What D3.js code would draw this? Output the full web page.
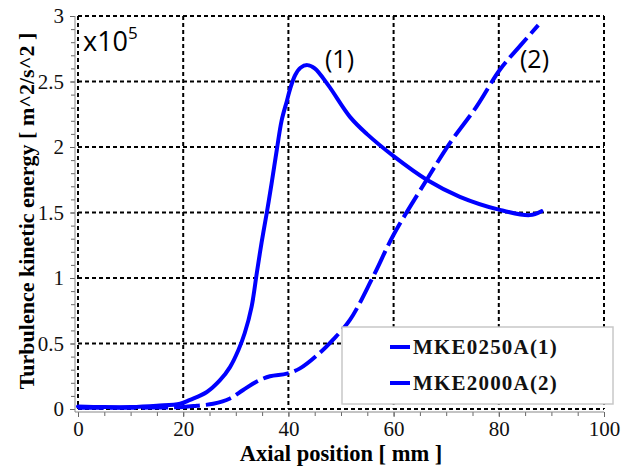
<!DOCTYPE html>
<html><head><meta charset="utf-8">
<script src="https://cdn.jsdelivr.net/npm/d3@7"></script>
<style>body{margin:0;background:#fff}svg{display:block}</style>
</head><body>
<svg id="c" width="623" height="468"></svg>
<script>
const xTicks = [0, 20, 40, 60, 80, 100];
const yTicks = [0, 0.5, 1, 1.5, 2, 2.5, 3];
const yTickLabels = ["0", "0.5", "1", "1.5", "2", "2.5", "3"];
const seriesNames = ["MKE0250A(1)", "MKE2000A(2)"];
const x1 = [0, 5, 10, 15, 19.4, 21.3, 24.5, 27, 28.9, 30.5, 31.7, 33, 34, 34.9, 35.9, 36.8, 37.8, 38.7, 39.7, 40.3, 41.3, 42.3, 43.6, 45, 47.6, 51.7, 54.9, 60, 66.3, 72.6, 80.2, 85.9, 88.1];
const y1 = [0.02, 0.015, 0.015, 0.025, 0.04, 0.07, 0.13, 0.22, 0.32, 0.45, 0.58, 0.78, 1.04, 1.27, 1.5, 1.72, 1.98, 2.2, 2.35, 2.44, 2.55, 2.605, 2.625, 2.6, 2.47, 2.23, 2.10, 1.93, 1.75, 1.62, 1.52, 1.48, 1.51];
const x2 = [0, 10, 20, 22.6, 25.7, 28.9, 31.4, 34, 36.5, 39.7, 42.2, 46, 48.5, 51.7, 56.1, 60, 66.3, 70.7, 75.8, 80.2, 84, 87.5];
const y2 = [0.01, 0.01, 0.015, 0.025, 0.04, 0.08, 0.145, 0.21, 0.25, 0.27, 0.31, 0.43, 0.53, 0.68, 1.01, 1.33, 1.75, 2.03, 2.31, 2.59, 2.77, 2.93];

const svg = d3.select("#c");
const x = d3.scaleLinear().domain([0, 100]).range([78, 604]);
const y = d3.scaleLinear().domain([0, 3]).range([409, 16]);
const blue = "#0000ff";
const serif = "'Liberation Serif','Times New Roman',serif";
const sans = "'Open Sans','Noto Sans',sans-serif";

// grid
const grid = svg.append("g").attr("stroke", "#000").attr("stroke-width", 2).attr("stroke-dasharray", "4,3");
grid.selectAll(".v").data(xTicks).enter().append("line")
  .attr("x1", d => x(d)).attr("x2", d => x(d)).attr("y1", y(3)).attr("y2", y(0));
grid.selectAll(".h").data(yTicks).enter().append("line")
  .attr("y1", d => y(d)).attr("y2", d => y(d)).attr("x1", x(0)).attr("x2", x(100));

// axes
const xAxis = d3.axisBottom(x).tickValues(xTicks).tickSize(5).tickPadding(4);
const xMinor = d3.axisBottom(x).tickValues(d3.range(0, 101, 5)).tickSize(4).tickFormat("");
const gx = svg.append("g").attr("transform", "translate(0,412)");
gx.call(xMinor);
gx.append("g").call(xAxis);
gx.selectAll("line").attr("stroke", "#666");
gx.selectAll("text").attr("font-family", serif).attr("font-size", 21).attr("fill", "#111");

const yAxis = d3.axisLeft(y).tickValues(yTicks).tickFormat((d, i) => yTickLabels[i]).tickSize(5).tickPadding(6);
const yMinor = d3.axisLeft(y).tickValues(d3.range(0, 3.01, 0.1)).tickSize(4).tickFormat("");
const gy = svg.append("g").attr("transform", "translate(75,0)");
gy.call(yMinor);
gy.append("g").call(yAxis);
gy.selectAll("line").attr("stroke", "#666");
gy.selectAll("text").attr("font-family", serif).attr("font-size", 21).attr("fill", "#111");
gx.selectAll(".domain").remove(); gy.selectAll(".domain").remove();
svg.append("line").attr("x1", 75).attr("x2", 75).attr("y1", y(3)).attr("y2", 412).attr("stroke", "#888");
svg.append("line").attr("x1", 75).attr("x2", x(100)).attr("y1", 412).attr("y2", 412).attr("stroke", "#888");

// lines
const line = d3.line().x(d => x(d[0])).y(d => y(d[1])).curve(d3.curveCatmullRom.alpha(0.5));
svg.append("path").datum(x1.map((v, i) => [v, y1[i]])).attr("d", line)
  .attr("fill", "none").attr("stroke", blue).attr("stroke-width", 4).attr("stroke-linecap", "round").attr("stroke-linejoin", "round");
svg.append("path").datum(x2.map((v, i) => [v, y2[i]])).attr("d", line)
  .attr("fill", "none").attr("stroke", blue).attr("stroke-width", 4).attr("stroke-dasharray", "26,6");

// annotations
svg.append("text").attr("x", 83).attr("y", 51).attr("font-family", sans).attr("font-size", 27).attr("fill", "#000")
  .text("x10").append("tspan").attr("dy", -12).attr("font-size", 17).text("5");
svg.append("text").attr("x", 325).attr("y", 68).attr("font-family", sans).attr("font-size", 25).text("(1)");
svg.append("text").attr("x", 520).attr("y", 68).attr("font-family", sans).attr("font-size", 25).text("(2)");

// axis titles
svg.append("text").attr("x", 341).attr("y", 461).attr("text-anchor", "middle")
  .attr("font-family", serif).attr("font-weight", "bold").attr("font-size", 22.5).text("Axial position [ mm ]");
svg.append("text").attr("transform", "translate(34,211) rotate(-90)").attr("text-anchor", "middle")
  .attr("font-family", serif).attr("font-weight", "bold").attr("font-size", 22).text("Turbulence kinetic energy [  m^2/s^2 ]");

// legend
const lg = svg.append("g");
lg.append("rect").attr("x", 342).attr("y", 327).attr("width", 271).attr("height", 77)
  .attr("fill", "#fff").attr("stroke", "#c8c8c8").attr("stroke-width", 1.5);
seriesNames.forEach((n, i) => {
  const yy = 347 + i * 36;
  lg.append("line").attr("x1", 390).attr("x2", 410).attr("y1", yy).attr("y2", yy).attr("stroke", blue).attr("stroke-width", 4);
  lg.append("text").attr("x", 413).attr("y", yy + 7).attr("font-family", serif).attr("font-weight", "bold")
    .attr("font-size", 21).attr("letter-spacing", 1.2).attr("fill", "#111").text(n);
});
</script>
</body></html>
